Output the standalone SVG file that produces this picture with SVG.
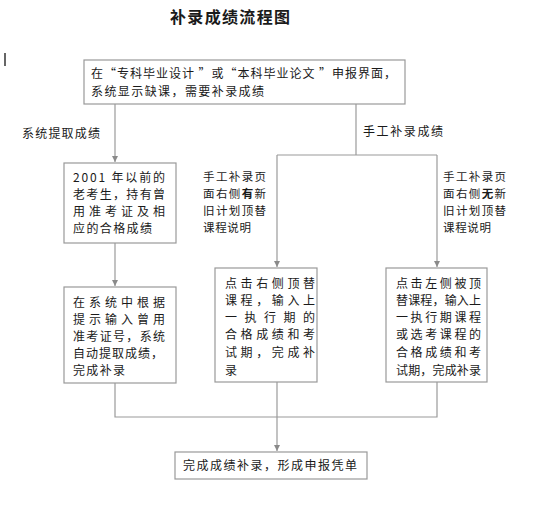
<svg xmlns="http://www.w3.org/2000/svg" width="534" height="521" viewBox="0 0 534 521">
<defs>
<style>
text{font-family:"Noto Sans CJK SC","Liberation Sans",sans-serif;fill:#1a1a1a;font-size:12px}
.box{fill:#fff;stroke:#999;stroke-width:1.2}
.ln{fill:none;stroke:#9a9a9a;stroke-width:1.2}
.t{font-size:16px;font-weight:bold}
.s{font-size:11.5px}
.b{font-weight:bold}
</style>
<marker id="ar" viewBox="0 0 8 8" refX="8" refY="4" markerWidth="6" markerHeight="6" markerUnits="userSpaceOnUse" orient="auto">
<path d="M0,0 L8,4 L0,8 z" fill="#8a8a8a"/>
</marker>
</defs>
<rect width="534" height="521" fill="#fff"/>
<text class="t" x="230" y="23" text-anchor="middle" textLength="120" lengthAdjust="spacing">补录成绩流程图</text>
<line x1="5" y1="53" x2="5" y2="66" stroke="#333" stroke-width="1.5"/>

<g id="connectors">
<polyline class="ln" points="115,104 115,162" marker-end="url(#ar)"/>
<polyline class="ln" points="356,104 356,155"/>
<polyline class="ln" points="277,155 437,155"/>
<polyline class="ln" points="277,155 277,267" marker-end="url(#ar)"/>
<polyline class="ln" points="437,155 437,267" marker-end="url(#ar)"/>
<polyline class="ln" points="115,243 115,286" marker-end="url(#ar)"/>
<polyline class="ln" points="115,383 115,417 437,417 437,382"/>
<polyline class="ln" points="277,382 277,451" marker-end="url(#ar)"/>
<text x="22" y="138" font-size="13" textLength="78" lengthAdjust="spacing">系统提取成绩</text>
<text x="363" y="136" font-size="13" textLength="80" lengthAdjust="spacing">手工补录成绩</text>
<g id="lbl-left">
<text class="s" x="203" y="181" textLength="63" lengthAdjust="spacing">手工补录页</text>
<text class="s" x="203" y="198" textLength="63" lengthAdjust="spacing">面右侧<tspan class="b">有</tspan>新</text>
<text class="s" x="203" y="215" textLength="63" lengthAdjust="spacing">旧计划顶替</text>
<text class="s" x="203" y="232" textLength="48" lengthAdjust="spacing">课程说明</text>
</g>
<g id="lbl-right">
<text class="s" x="443" y="181" textLength="63" lengthAdjust="spacing">手工补录页</text>
<text class="s" x="443" y="198" textLength="63" lengthAdjust="spacing">面右侧<tspan class="b">无</tspan>新</text>
<text class="s" x="443" y="215" textLength="63" lengthAdjust="spacing">旧计划顶替</text>
<text class="s" x="443" y="232" textLength="48" lengthAdjust="spacing">课程说明</text>
</g>
</g>

<g id="n-start">
<rect class="box" x="84" y="60" width="321" height="44"/>
<text x="91" y="78" font-size="13" textLength="305" lengthAdjust="spacing">在“专科毕业设计 ”或“本科毕业论文 ”申报界面，</text>
<text x="91" y="96" font-size="13" textLength="173" lengthAdjust="spacing">系统显示缺课，需要补录成绩</text>
</g>

<g id="n-old">
<rect class="box" x="64" y="163" width="112" height="80"/>
<text x="73" y="182" textLength="92" lengthAdjust="spacing">2001 年以前的</text>
<text x="73" y="199" textLength="92" lengthAdjust="spacing">老考生，持有曾</text>
<text x="73" y="216" textLength="92" lengthAdjust="spacing">用准考证及相</text>
<text x="73" y="233" textLength="79" lengthAdjust="spacing">应的合格成绩</text>
</g>

<g id="n-auto">
<rect class="box" x="64" y="287" width="112" height="96"/>
<text x="73" y="307" textLength="92" lengthAdjust="spacing">在系统中根据</text>
<text x="73" y="324" textLength="92" lengthAdjust="spacing">提示输入曾用</text>
<text x="73" y="341" textLength="92" lengthAdjust="spacing">准考证号，系统</text>
<text x="73" y="358" textLength="90" lengthAdjust="spacing">自动提取成绩，</text>
<text x="73" y="375" textLength="52" lengthAdjust="spacing">完成补录</text>
</g>

<g id="n-right">
<rect class="box" x="215" y="268" width="102" height="114"/>
<text x="225" y="288" textLength="90" lengthAdjust="spacing">点击右侧顶替</text>
<text x="225" y="305" textLength="90" lengthAdjust="spacing">课程，输入上</text>
<text x="225" y="322" textLength="90" lengthAdjust="spacing">一执行期的</text>
<text x="225" y="339" textLength="90" lengthAdjust="spacing">合格成绩和考</text>
<text x="225" y="357" textLength="90" lengthAdjust="spacing">试期，完成补</text>
<text x="225" y="375">录</text>
</g>

<g id="n-left">
<rect class="box" x="386" y="268" width="101" height="114"/>
<text x="396" y="288" textLength="85" lengthAdjust="spacing">点击左侧被顶</text>
<text x="396" y="305" textLength="85" lengthAdjust="spacing">替课程，输入上</text>
<text x="396" y="322" textLength="85" lengthAdjust="spacing">一执行期课程</text>
<text x="396" y="339" textLength="85" lengthAdjust="spacing">或选考课程的</text>
<text x="396" y="357" textLength="85" lengthAdjust="spacing">合格成绩和考</text>
<text x="396" y="375" textLength="85" lengthAdjust="spacing">试期，完成补录</text>
</g>

<g id="n-end">
<rect class="box" x="175" y="452" width="192" height="27"/>
<text x="183" y="470" font-size="13" textLength="174" lengthAdjust="spacing">完成成绩补录，形成申报凭单</text>
</g>
</svg>
